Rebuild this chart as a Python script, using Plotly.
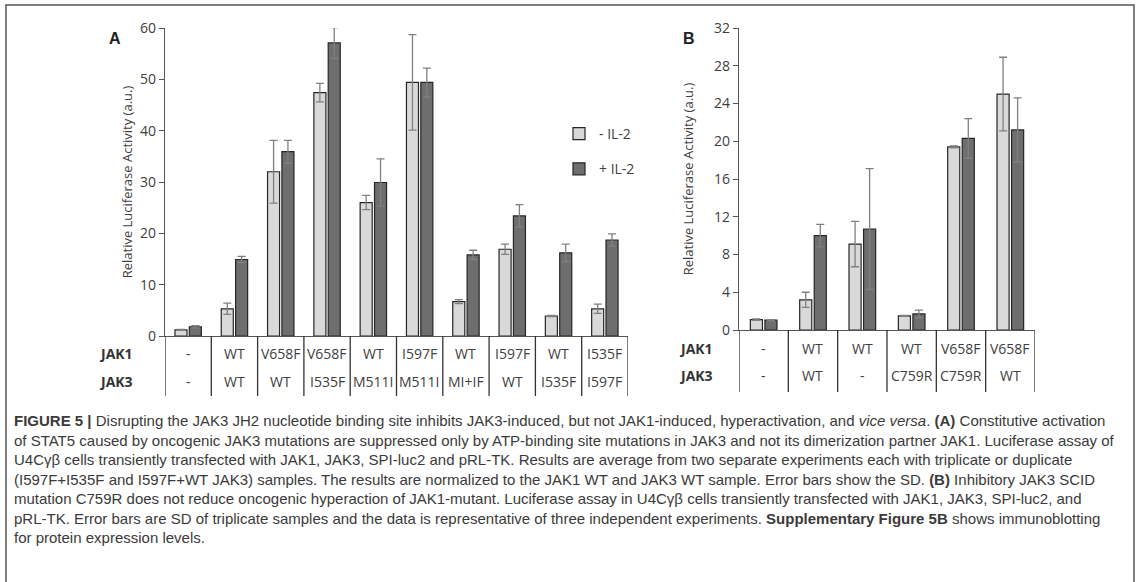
import plotly.graph_objects as go

W, H = 1137, 582

# ---------------- data ----------------
jak1_a = ["-", "WT", "V658F", "V658F", "WT", "I597F", "WT", "I597F", "WT", "I535F"]
jak3_a = ["-", "WT", "WT", "I535F", "M511I", "M511I", "MI+IF", "WT", "I535F", "I597F"]
minus_a = [1.2, 5.3, 32.0, 47.4, 26.0, 49.4, 6.7, 16.9, 3.9, 5.3]
minus_a_err = [0.1, 1.1, 6.1, 1.8, 1.4, 9.3, 0.4, 1.0, 0.1, 0.9]
plus_a = [1.8, 14.9, 35.9, 57.1, 29.9, 49.4, 15.8, 23.4, 16.2, 18.7]
plus_a_err = [0.2, 0.6, 2.2, 3.0, 4.6, 2.8, 0.9, 2.2, 1.7, 1.2]

jak1_b = ["-", "WT", "WT", "WT", "V658F", "V658F"]
jak3_b = ["-", "WT", "-", "C759R", "C759R", "WT"]
minus_b = [1.1, 3.2, 9.1, 1.5, 19.4, 25.0]
minus_b_err = [0.08, 0.8, 2.4, 0.05, 0.1, 3.9]
plus_b = [1.05, 10.0, 10.7, 1.7, 20.3, 21.2]
plus_b_err = [0.05, 1.2, 6.4, 0.4, 2.1, 3.4]

yticks_a = [0, 10, 20, 30, 40, 50, 60]
yticks_b = [0, 4, 8, 12, 16, 20, 24, 28, 32]

legend_names = ["- IL-2", "+ IL-2"]

caption_lines = [
    "<b>FIGURE 5 |</b> Disrupting the JAK3 JH2 nucleotide binding site inhibits JAK3-induced, but not JAK1-induced, hyperactivation, and <i>vice versa</i>. <b>(A)</b> Constitutive activation",
    "of STAT5 caused by oncogenic JAK3 mutations are suppressed only by ATP-binding site mutations in JAK3 and not its dimerization partner JAK1. Luciferase assay of",
    "U4Cγβ cells transiently transfected with JAK1, JAK3, SPI-luc2 and pRL-TK. Results are average from two separate experiments each with triplicate or duplicate",
    "(I597F+I535F and I597F+WT JAK3) samples. The results are normalized to the JAK1 WT and JAK3 WT sample. Error bars show the SD. <b>(B)</b> Inhibitory JAK3 SCID",
    "mutation C759R does not reduce oncogenic hyperaction of JAK1-mutant. Luciferase assay in U4Cγβ cells transiently transfected with JAK1, JAK3, SPI-luc2, and",
    "pRL-TK. Error bars are SD of triplicate samples and the data is representative of three independent experiments. <b>Supplementary Figure 5B</b> shows immunoblotting",
    "for protein expression levels.",
]

# ---------------- style ----------------
LIGHT = "#d9d9d9"
DARK = "#6e6e6e"
EDGE = "#262626"
ERRC = "#808080"
TXT = "#404040"
FONT = "Open Sans"
CAPFONT = "Liberation Sans"

def px(x):
    return x / W

def py(y):
    return 1 - y / H

fig = go.Figure()

def add_pair(xaxis, yaxis, cats, m, me, p, pe, width, off_l, off_d, show):
    xs = list(range(len(cats)))
    fig.add_trace(go.Bar(
        x=xs, y=m, name=legend_names[0], legendgroup="a",
        width=width, offset=off_l,
        marker=dict(color=LIGHT, line=dict(color=EDGE, width=1.2)),
        error_y=dict(type="data", array=me, visible=True, color=ERRC, thickness=1.3, width=4),
        xaxis=xaxis, yaxis=yaxis, showlegend=show))
    fig.add_trace(go.Bar(
        x=xs, y=p, name=legend_names[1], legendgroup="b",
        width=width, offset=off_d,
        marker=dict(color=DARK, line=dict(color=EDGE, width=1.2)),
        error_y=dict(type="data", array=pe, visible=True, color=ERRC, thickness=1.3, width=4),
        xaxis=xaxis, yaxis=yaxis, showlegend=show))

add_pair("x", "y", jak1_a, minus_a, minus_a_err, plus_a, plus_a_err, 0.26, -0.285, 0.025, True)
add_pair("x2", "y2", jak1_b, minus_b, minus_b_err, plus_b, plus_b_err, 0.245, -0.27, 0.025, False)

# panel geometry (pixels)
A_x0, A_x1, A_ybot, A_ytop = 165, 628, 336, 28
B_x0, B_x1, B_ybot, B_ytop = 739, 1035, 330, 28
TABLE_BOTTOM_A = 396
TABLE_BOTTOM_B = 392

axis_common = dict(showgrid=False, zeroline=False, showline=True, linecolor="#555555",
                   linewidth=1.3, automargin=False)

fig.update_layout(
    width=W, height=H,
    margin=dict(l=0, r=0, t=0, b=0, autoexpand=False),
    paper_bgcolor="white", plot_bgcolor="white",
    barmode="overlay",
    showlegend=True,
    legend=dict(x=px(559), y=py(118), xanchor="left", yanchor="top",
                font=dict(family=FONT, size=14, color=TXT),
                traceorder="grouped", tracegroupgap=14, bgcolor="rgba(0,0,0,0)"),
    xaxis=dict(domain=[px(A_x0), px(A_x1)], range=[-0.5, len(jak1_a) - 0.5],
               showticklabels=False, ticks="", anchor="y", **axis_common),
    yaxis=dict(domain=[py(A_ybot), py(A_ytop)], range=[0, 60], tickvals=yticks_a,
               ticks="outside", ticklen=5, tickcolor="#555555", anchor="x",
               tickfont=dict(family=FONT, size=14, color=TXT),
               title=dict(text="Relative Luciferase Activity (a.u.)", standoff=4,
                          font=dict(family=FONT, size=13, color=TXT)),
               **axis_common),
    xaxis2=dict(domain=[px(B_x0), px(B_x1)], range=[-0.5, len(jak1_b) - 0.5],
                showticklabels=False, ticks="", anchor="y2", **axis_common),
    yaxis2=dict(domain=[py(B_ybot), py(B_ytop)], range=[0, 32], tickvals=yticks_b,
                ticks="outside", ticklen=5, tickcolor="#555555", anchor="x2",
                tickfont=dict(family=FONT, size=14, color=TXT),
                title=dict(text="Relative Luciferase Activity (a.u.)", standoff=17,
                           font=dict(family=FONT, size=13, color=TXT)),
                **axis_common),
)

shapes = []
annotations = []

# table separators and texts
def table(xref, cats1, cats3, ybot, tbottom, label_right):
    for i in range(len(cats1) + 1):
        shapes.append(dict(type="line", xref=xref, yref="paper", x0=i - 0.5, x1=i - 0.5,
                           y0=py(ybot), y1=py(tbottom), line=dict(color="#333333", width=1.3)))
    for i, (a, b) in enumerate(zip(cats1, cats3)):
        annotations.append(dict(x=i, y=py(ybot + 18), xref=xref, yref="paper", text=a,
                                showarrow=False, font=dict(family=FONT, size=14, color=TXT)))
        annotations.append(dict(x=i, y=py(ybot + 45), xref=xref, yref="paper", text=b,
                                showarrow=False, font=dict(family=FONT, size=14, color=TXT)))
    for lab, yy in (("JAK1", ybot + 18), ("JAK3", ybot + 45)):
        annotations.append(dict(x=px(label_right), y=py(yy), xref="paper", yref="paper",
                                xanchor="right", text="<b>" + lab + "</b>", showarrow=False,
                                font=dict(family=FONT, size=14, color="#333333")))

table("x", jak1_a, jak3_a, A_ybot, TABLE_BOTTOM_A, 135)
table("x2", jak1_b, jak3_b, B_ybot, TABLE_BOTTOM_B, 715)

# panel letters
annotations.append(dict(x=px(107), y=py(28), xref="paper", yref="paper", text="<b>A</b>",
                        showarrow=False, font=dict(family=CAPFONT, size=16, color="#222222")))
annotations.append(dict(x=px(689), y=py(28), xref="paper", yref="paper", text="<b>B</b>",
                        showarrow=False, font=dict(family=CAPFONT, size=16, color="#222222")))

# caption
cap_y = [420, 440, 459, 479, 498, 518, 537]
for t, yy in zip(caption_lines, cap_y):
    annotations.append(dict(x=px(12), y=py(yy), xref="paper", yref="paper", xanchor="left",
                            yanchor="middle", text=t, showarrow=False, align="left",
                            font=dict(family=CAPFONT, size=15, color="#3a3a3a")))

# outer frame
shapes.append(dict(type="rect", xref="paper", yref="paper", x0=px(6), x1=px(1134),
                   y0=-0.05, y1=py(5), line=dict(color="#555555", width=1.5)))

fig.update_layout(shapes=shapes, annotations=annotations)
fig.write_html("out.html", config={"displayModeBar": False},
               post_script="document.body.style.margin='0';")
